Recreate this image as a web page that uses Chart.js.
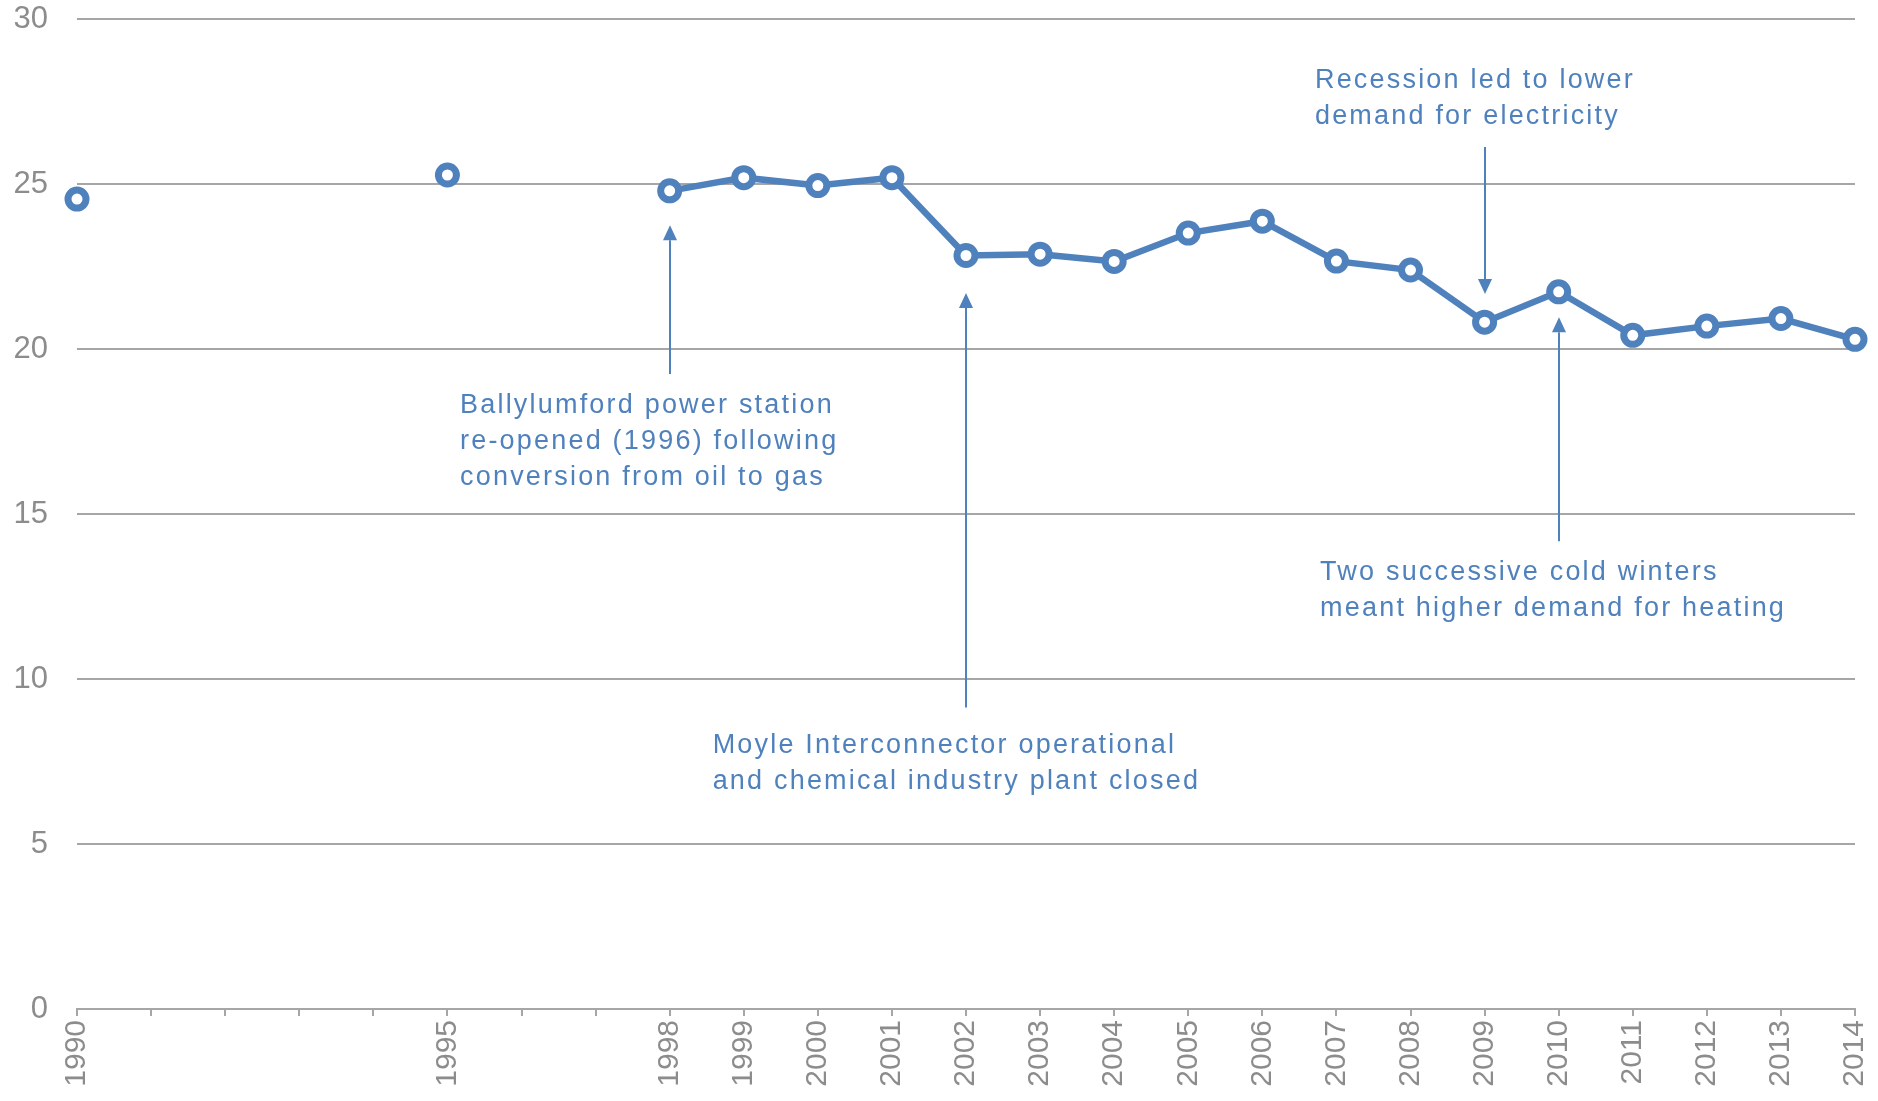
<!DOCTYPE html>
<html>
<head>
<meta charset="utf-8">
<script src="https://cdn.jsdelivr.net/npm/chart.js@4/dist/chart.umd.min.js"></script>
<style>
  html, body { margin: 0; padding: 0; background: #ffffff; }
  #wrap { width: 1878px; height: 1101px; position: relative; }
</style>
</head>
<body>
<div id="wrap"><canvas id="c" width="1878" height="1101"></canvas></div>
<script>
// ---- Data ----
const years = [1990, 1991, 1992, 1993, 1994, 1995, 1996, 1997, 1998, 1999, 2000, 2001, 2002,
               2003, 2004, 2005, 2006, 2007, 2008, 2009, 2010, 2011, 2012, 2013, 2014];
const values = [24.55, null, null, null, null, 25.28, null, null, 24.80, 25.20, 24.96, 25.20, 22.84,
                22.88, 22.66, 23.52, 23.88, 22.67, 22.40, 20.82, 21.74, 20.42, 20.70, 20.93, 20.30];
const labelYears = [1990, 1995, 1998, 1999, 2000, 2001, 2002, 2003, 2004, 2005, 2006, 2007,
                    2008, 2009, 2010, 2011, 2012, 2013, 2014];
const yTicks = [0, 5, 10, 15, 20, 25, 30];

// ---- Annotations (in data coordinates) ----
const arrows = [
  { x: 1998, from: 19.25, to: 23.76 },
  { x: 2002, from: 9.14,  to: 21.70 },
  { x: 2009, from: 26.13, to: 21.67 },
  { x: 2010, from: 14.18, to: 20.97 }
];
const notes = [
  { x: 1995.17, y: 18.29, lines: ['Ballylumford power station', 're-opened (1996) following', 'conversion from oil to gas'] },
  { x: 1998.58, y: 8.00,  lines: ['Moyle Interconnector operational', 'and chemical industry plant closed'] },
  { x: 2006.71, y: 28.13, lines: ['Recession led to lower', 'demand for electricity'] },
  { x: 2006.78, y: 13.24, lines: ['Two successive cold winters', 'meant higher demand for heating'] }
];

const BLUE = '#4F81BD';
const GRID = '#A6A6A6';
const TICK = '#8C8C8C';

const annotationPlugin = {
  id: 'notes',
  afterDatasetsDraw(chart) {
    const ctx = chart.ctx;
    const xs = chart.scales.x, ys = chart.scales.y;
    ctx.save();
    ctx.strokeStyle = BLUE;
    ctx.fillStyle = BLUE;
    ctx.lineWidth = 2;
    arrows.forEach(a => {
      const px = Math.round(xs.getPixelForValue(a.x));
      const y0 = ys.getPixelForValue(a.from);
      const y1 = ys.getPixelForValue(a.to);
      const dir = y1 < y0 ? 1 : -1; // 1 => arrow pointing up
      const headLen = 15, headW = 7;
      ctx.beginPath();
      ctx.moveTo(px, y0);
      ctx.lineTo(px, y1 + dir * headLen);
      ctx.stroke();
      ctx.beginPath();
      ctx.moveTo(px, y1);
      ctx.lineTo(px - headW, y1 + dir * headLen);
      ctx.lineTo(px + headW, y1 + dir * headLen);
      ctx.closePath();
      ctx.fill();
    });
    ctx.font = '27px "Liberation Sans", Arial, sans-serif';
    try { ctx.letterSpacing = '2.2px'; } catch (e) {}
    ctx.textAlign = 'left';
    ctx.textBaseline = 'middle';
    notes.forEach(n => {
      const px = xs.getPixelForValue(n.x);
      const py = ys.getPixelForValue(n.y);
      n.lines.forEach((t, i) => ctx.fillText(t, px, py + i * 36));
    });
    ctx.restore();
  }
};

const points = years.map((yr, i) => ({ x: yr, y: values[i] }));

new Chart(document.getElementById('c'), {
  type: 'line',
  data: {
    datasets: [{
      data: points,
      borderColor: BLUE,
      borderWidth: 6.5,
      pointRadius: 9,
      pointHoverRadius: 9,
      pointBorderWidth: 7,
      pointBackgroundColor: '#ffffff',
      pointBorderColor: BLUE,
      spanGaps: false,
      tension: 0,
      clip: false
    }]
  },
  options: {
    responsive: false,
    animation: false,
    events: [],
    layout: { padding: { top: 19.3, right: 23, left: 0, bottom: 0 } },
    plugins: { legend: { display: false }, tooltip: { enabled: false } },
    scales: {
      x: {
        type: 'linear',
        min: 1990,
        max: 2014,
        afterBuildTicks(scale) {
          scale.ticks = years.map(v => ({ value: v }));
        },
        afterFit(scale) {
          scale.height = 92;
          scale.paddingLeft = 0;
          scale.paddingRight = 0;
        },
        ticks: {
          stepSize: 1,
          autoSkip: false,
          minRotation: 90,
          maxRotation: 90,
          padding: 4,
          color: TICK,
          font: { family: '"Liberation Sans", Arial, sans-serif', size: 30 },
          callback: v => labelYears.includes(v) ? String(v) : ''
        },
        grid: {
          drawOnChartArea: false,
          drawTicks: true,
          tickLength: 7,
          color: GRID,
          lineWidth: 2
        },
        border: { display: true, color: GRID, width: 2 }
      },
      y: {
        min: 0,
        max: 30,
        afterBuildTicks(scale) {
          scale.ticks = yTicks.map(v => ({ value: v }));
        },
        afterFit(scale) {
          scale.width = 77;
          scale.paddingTop = 0;
          scale.paddingBottom = 0;
        },
        ticks: {
          padding: 29,
          color: TICK,
          font: { family: '"Liberation Sans", Arial, sans-serif', size: 31 }
        },
        grid: {
          drawTicks: false,
          color: GRID,
          lineWidth: 2
        },
        border: { display: false }
      }
    }
  },
  plugins: [annotationPlugin]
});
</script>
</body>
</html>
